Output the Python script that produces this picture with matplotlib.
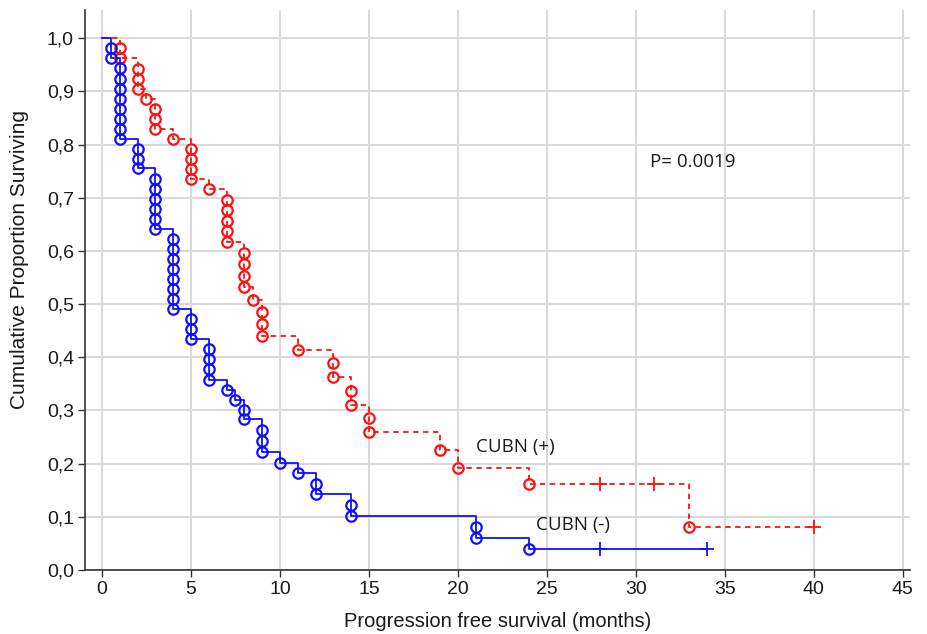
import matplotlib.pyplot as plt

# CUBN (-) : step times, survival after each step, number of events at the step
neg_t = [0.5, 1, 2, 3, 4, 5, 6, 7, 7.5, 8, 9, 10, 11, 12, 14, 21, 24]
neg_s = [0.962, 0.810, 0.755, 0.641, 0.490, 0.435, 0.358, 0.338, 0.320, 0.283,
         0.222, 0.202, 0.182, 0.142, 0.101, 0.060, 0.040]
neg_n = [2, 8, 3, 6, 8, 3, 4, 1, 1, 2, 3, 1, 1, 2, 2, 2, 1]
neg_cens = [28, 34]

# CUBN (+)
pos_t = [1, 2, 2.5, 3, 4, 5, 6, 7, 8, 8.5, 9, 11, 13, 14, 15, 19, 20, 24, 33]
pos_s = [0.962, 0.904, 0.885, 0.830, 0.810, 0.735, 0.716, 0.617, 0.532, 0.508,
         0.440, 0.414, 0.363, 0.310, 0.260, 0.226, 0.192, 0.162, 0.081]
pos_n = [2, 3, 1, 3, 1, 4, 1, 5, 4, 1, 3, 1, 2, 2, 2, 1, 1, 1, 1]
pos_cens = [28, 31, 40]

x_ticks = [0, 5, 10, 15, 20, 25, 30, 35, 40, 45]
y_ticks = [0.0, 0.1, 0.2, 0.3, 0.4, 0.5, 0.6, 0.7, 0.8, 0.9, 1.0]

fig = plt.figure(figsize=(9.27, 6.34), dpi=100)
ax = fig.add_axes([85 / 927, 64 / 634, 825 / 927, 560 / 634])


def km_curve(ax, t, s, n, cens, color, ls):
    xs = [0] + t + [max(cens)]
    ys = [1.0] + s + [s[-1]]
    ax.plot(xs, ys, drawstyle='steps-post', color=color, lw=1.3, ls=ls, zorder=3)
    # one open circle per event, spread along the drop
    prev = 1.0
    cx, cy = [], []
    for ti, si, ni in zip(t, s, n):
        for k in range(1, ni + 1):
            cx.append(ti)
            cy.append(prev - k * (prev - si) / ni)
        prev = si
    ax.plot(cx, cy, 'o', mfc='none', mec=color, ms=7.5, mew=1.6, zorder=4)
    # censored observations
    cyc = []
    for c in cens:
        lvl = 1.0
        for ti, si in zip(t, s):
            if ti <= c:
                lvl = si
        cyc.append(lvl)
    ax.plot(cens, cyc, '+', color=color, ms=10, mew=1.3, zorder=4)


km_curve(ax, pos_t, pos_s, pos_n, pos_cens, '#ff1010', (0, (3, 2.5)))
km_curve(ax, neg_t, neg_s, neg_n, neg_cens, '#1010ff', '-')

ax.set_xlim(-0.95, 45.4)
ax.set_ylim(0, 1.053)
ax.set_xticks(x_ticks)
ax.set_yticks(y_ticks)
ax.set_xticklabels([str(v) for v in x_ticks], fontsize=14, family='Liberation Sans', color='#1a1a1a')
ax.set_yticklabels([f"{v:.1f}".replace('.', ',') for v in y_ticks], fontsize=14,
                   family='Liberation Sans', color='#1a1a1a')
ax.grid(True, color='#d9d9d9', lw=1.5, zorder=0)
ax.set_axisbelow(True)
for side in ['top', 'right']:
    ax.spines[side].set_visible(False)
for side in ['left', 'bottom']:
    ax.spines[side].set_color('#333333')
    ax.spines[side].set_linewidth(1.2)
ax.tick_params(direction='out', length=5, width=1, color='#333333', pad=3)

ax.set_xlabel('Progression free survival (months)', fontsize=14.5,
              family='Liberation Sans', color='#1a1a1a', labelpad=10)
ax.set_ylabel('Cumulative Proportion Surviving', fontsize=15,
              family='Liberation Sans', color='#1a1a1a')
ax.yaxis.set_label_coords(-0.068, 0.555)

ax.text(21.0, 0.231, 'CUBN (+)', fontsize=13.5, family='Open Sans', va='center', ha='left', color='#1a1a1a')
ax.text(24.4, 0.085, 'CUBN (-)', fontsize=13.5, family='Open Sans', va='center', ha='left', color='#1a1a1a')
ax.text(30.8, 0.767, 'P= 0.0019', fontsize=13.5, family='Open Sans', va='center', ha='left', color='#1a1a1a')

fig.savefig('out.png', dpi=100)
